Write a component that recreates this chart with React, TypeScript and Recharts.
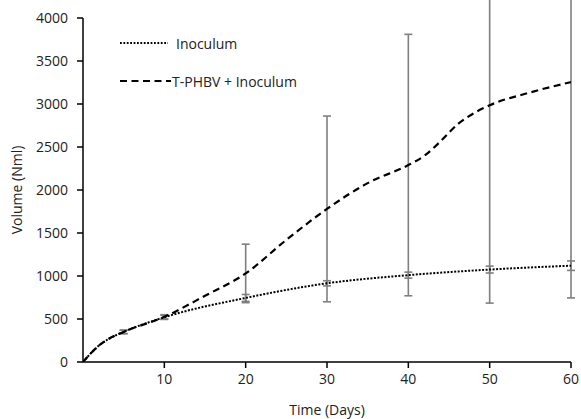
import React from 'react';
import { ComposedChart, Line, Scatter, XAxis, YAxis, ErrorBar, Legend } from 'recharts';

const inocDays = [0, 1, 2, 3, 5, 10, 20, 30, 40, 50, 60];
const inocVals = [0, 105, 195, 260, 350, 520, 745, 915, 1010, 1075, 1120];
const tDays = [0, 1, 2, 3, 5, 10, 15, 20, 25, 30, 35, 40, 42, 44, 46, 48, 50, 55, 60];
const tVals = [0, 105, 195, 260, 350, 525, 770, 1030, 1420, 1780, 2080, 2290, 2400, 2570, 2760, 2890, 2985, 3135, 3255];

const errDays = [5, 10, 20, 30, 40, 50, 60];
const inocErrVals = [350, 520, 745, 915, 1010, 1075, 1120];
const inocErr = [20, 25, 40, 30, 35, 40, 55];
const tErrVals = [350, 525, 1030, 1780, 2290, 2985, 3255];
const tErr = [20, 25, 340, 1080, 1520, 2300, 2510];

const xTicks = [10, 20, 30, 40, 50, 60];
const yTicks = [0, 500, 1000, 1500, 2000, 2500, 3000, 3500, 4000];
const seriesNames = ['Inoculum', 'T-PHBV + Inoculum'];

const inocData = inocDays.map((d, i) => ({ day: d, v: inocVals[i] }));
const tData = tDays.map((d, i) => ({ day: d, v: tVals[i] }));
const inocErrData = errDays.map((d, i) => ({ day: d, v: inocErrVals[i], e: inocErr[i] }));
const tErrData = errDays.map((d, i) => ({ day: d, v: tErrVals[i], e: tErr[i] }));

const FONT = '"Open Sans", sans-serif';

const LegendContent = () => (
  <div style={{ fontFamily: FONT, fontSize: 14, color: '#222' }}>
    <div style={{ display: 'flex', alignItems: 'center', height: 20 }}>
      <svg width={57} height={10}>
        <line x1={1} y1={5} x2={49} y2={5} stroke="#000" strokeWidth={1.8} strokeDasharray="1.8 1.6" />
      </svg>
      <span>{seriesNames[0]}</span>
    </div>
    <div style={{ display: 'flex', alignItems: 'center', height: 20, marginTop: 18 }}>
      <svg width={53} height={10}>
        <line x1={1} y1={5} x2={52} y2={5} stroke="#000" strokeWidth={2.2} strokeDasharray="7 4.5" />
      </svg>
      <span>{seriesNames[1]}</span>
    </div>
  </div>
);

const noShape = () => <g />;

export default function App() {
  return (
    <div style={{ position: 'absolute', left: 0, top: 0, background: '#fff' }}>
      <ComposedChart width={581} height={419} margin={{ top: 18, right: 10, bottom: 0, left: 0 }}>
        <XAxis
          type="number"
          dataKey="day"
          domain={[0, 60]}
          ticks={xTicks}
          allowDataOverflow
          stroke="#000"
          strokeWidth={1.5}
          tickSize={6}
          tickMargin={6}
          height={57}
          tick={{ fill: '#222', fontSize: 14, fontFamily: FONT }}
          label={{ value: 'Time (Days)', position: 'insideBottom', offset: 4, fill: '#222', fontSize: 14, fontFamily: FONT }}
        />
        <YAxis
          type="number"
          domain={[0, 4000]}
          ticks={yTicks}
          allowDataOverflow
          stroke="#000"
          strokeWidth={1.5}
          tickSize={6}
          tickMargin={9}
          width={83}
          tick={{ fill: '#222', fontSize: 14, fontFamily: FONT }}
          label={{ value: 'Volume (Nml)', angle: -90, position: 'insideLeft', offset: 17, fill: '#222', fontSize: 14, fontFamily: FONT, style: { textAnchor: 'middle' } }}
        />
        <Scatter data={inocErrData} dataKey="v" shape={noShape} isAnimationActive={false} legendType="none">
          <ErrorBar dataKey="e" direction="y" stroke="#7f7f7f" strokeWidth={1.6} width={4} />
        </Scatter>
        <Scatter data={tErrData} dataKey="v" shape={noShape} isAnimationActive={false} legendType="none">
          <ErrorBar dataKey="e" direction="y" stroke="#7f7f7f" strokeWidth={1.6} width={4} />
        </Scatter>
        <Line data={inocData} dataKey="v" name={seriesNames[0]} type="monotone" stroke="#000" strokeWidth={2} strokeDasharray="2 1.5" dot={false} activeDot={false} isAnimationActive={false} />
        <Line data={tData} dataKey="v" name={seriesNames[1]} type="monotone" stroke="#000" strokeWidth={2.2} strokeDasharray="7 4.5" dot={false} activeDot={false} isAnimationActive={false} />
        <Legend layout="vertical" verticalAlign="middle" align="center" content={LegendContent} wrapperStyle={{ left: 119, top: 33, width: 260 }} />
      </ComposedChart>
    </div>
  );
}
